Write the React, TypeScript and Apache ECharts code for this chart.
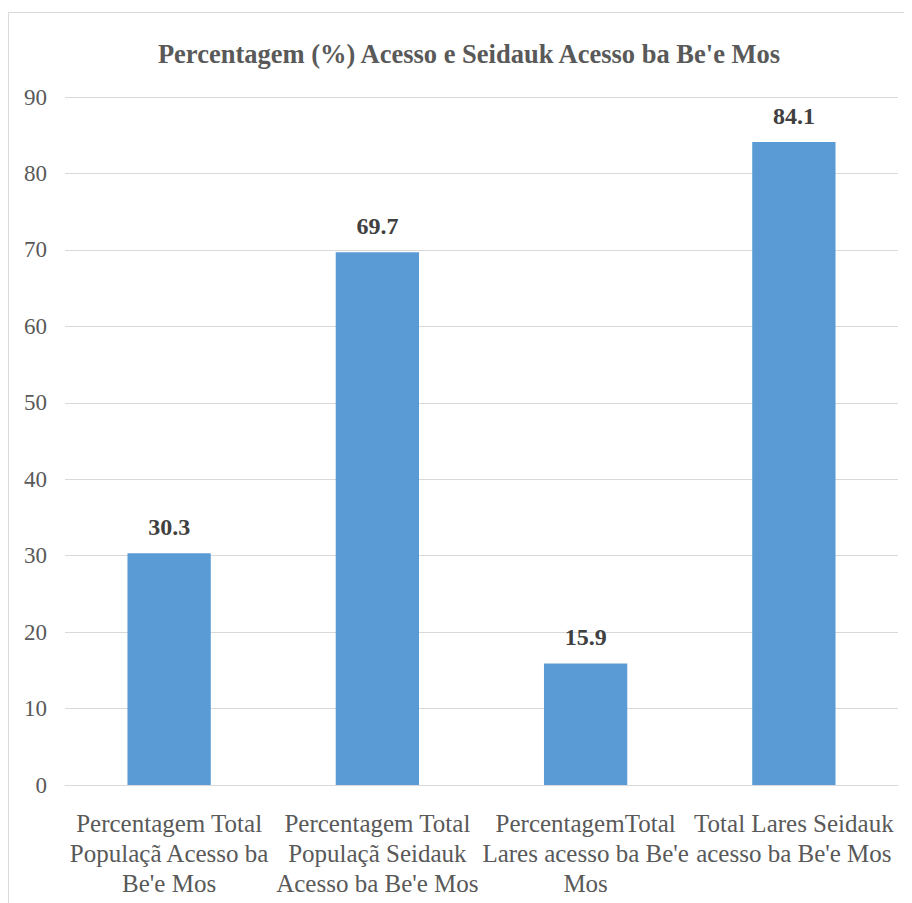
import React, { useEffect, useRef } from "react";
import * as echarts from "echarts";

const titleText = "Percentagem (%) Acesso e Seidauk Acesso ba Be'e Mos";
const categories = [
  "Percentagem Total\nPopulaçã Acesso ba\nBe'e Mos",
  "Percentagem Total\nPopulaçã Seidauk\nAcesso ba Be'e Mos",
  "PercentagemTotal\nLares acesso ba Be'e\nMos",
  "Total Lares Seidauk\nacesso ba Be'e Mos",
];
const values = [30.3, 69.7, 15.9, 84.1];
const yMin = 0;
const yMax = 90;
const yInterval = 10;

const FONT = "'Liberation Serif', 'Times New Roman', serif";

export default function App() {
  const ref = useRef<HTMLDivElement>(null);
  useEffect(() => {
    if (!ref.current) return;
    const chart = echarts.init(ref.current, undefined, { renderer: "svg" });
    chart.setOption({
      animation: false,
      backgroundColor: "#ffffff",
      title: {
        text: titleText,
        left: 456,
        textAlign: "center",
        top: 27,
        textStyle: {
          fontFamily: FONT,
          fontSize: 26.5,
          fontWeight: "bold",
          color: "#595959",
        },
      },
      graphic: [
        {
          type: "rect",
          shape: { x: 0.5, y: 4.5, width: 1000, height: 1000 },
          style: { fill: "none", stroke: "#d9d9d9", lineWidth: 1 },
          silent: true,
          z: -1,
        },
      ],
      grid: { left: 57, right: 14, top: 89, bottom: 118, containLabel: false },
      xAxis: {
        type: "category",
        data: categories,
        axisLine: { show: true, lineStyle: { color: "#d9d9d9", width: 1 } },
        axisTick: { show: false },
        axisLabel: {
          interval: 0,
          margin: 23,
          fontFamily: FONT,
          fontSize: 25,
          lineHeight: 30,
          color: "#595959",
          align: "center",
        },
      },
      yAxis: {
        type: "value",
        min: yMin,
        max: yMax,
        interval: yInterval,
        axisLine: { show: false },
        axisTick: { show: false },
        splitLine: { lineStyle: { color: "#d9d9d9", width: 1 } },
        axisLabel: {
          margin: 18,
          fontFamily: FONT,
          fontSize: 23,
          color: "#595959",
        },
      },
      series: [
        {
          type: "bar",
          data: values,
          barWidth: "40%",
          itemStyle: { color: "#5b9bd5" },
          label: {
            show: true,
            position: "top",
            distance: 14,
            fontFamily: FONT,
            fontSize: 24,
            fontWeight: "bold",
            color: "#404040",
            formatter: (p: any) => p.value.toFixed(1),
          },
        },
      ],
    });
    return () => chart.dispose();
  }, []);
  return <div ref={ref} style={{ width: 904, height: 895 }} />;
}
